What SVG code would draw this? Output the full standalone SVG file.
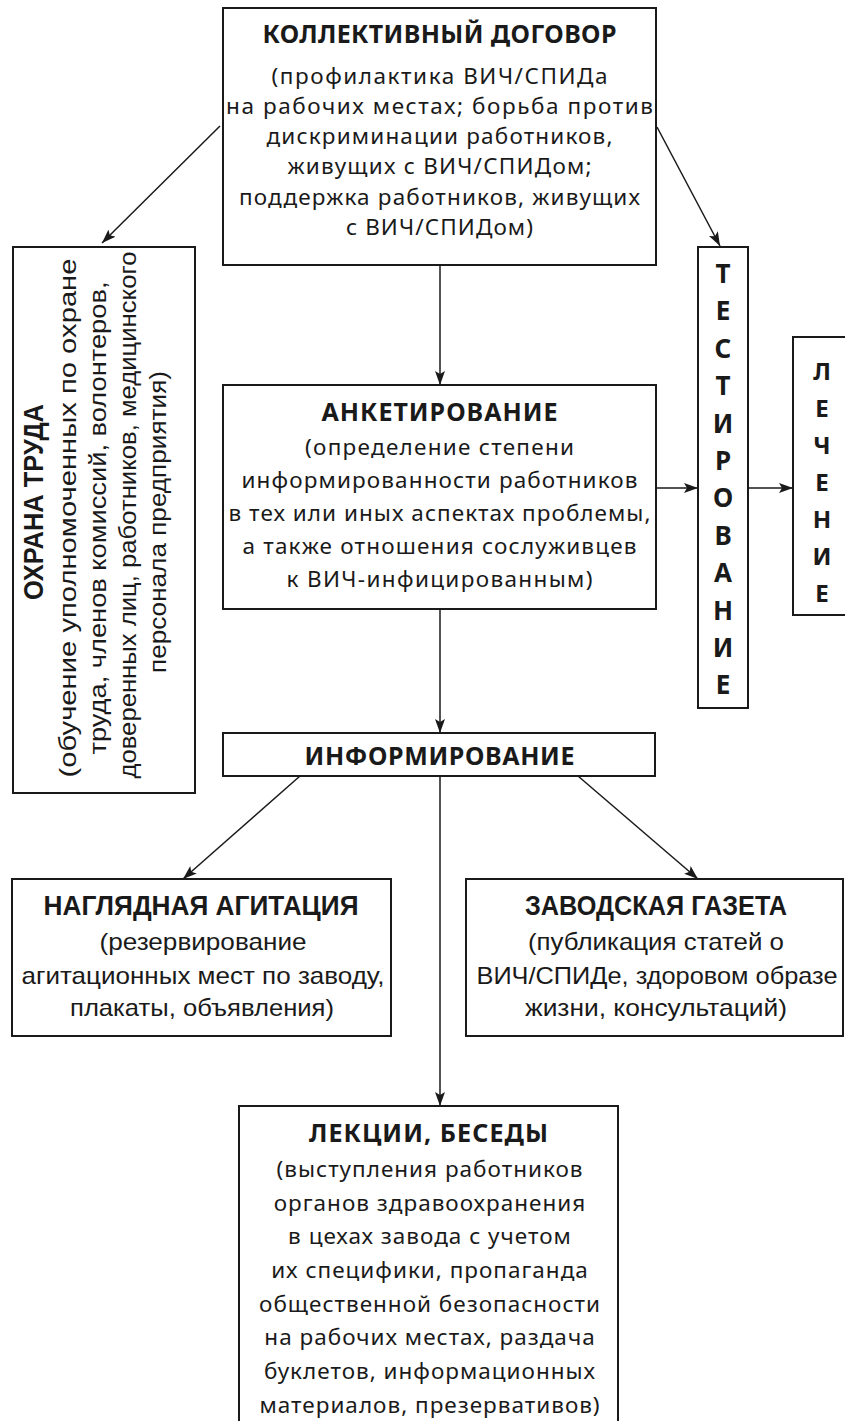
<svg xmlns="http://www.w3.org/2000/svg" width="845" height="1421" viewBox="0 0 845 1421">
<defs>
<style>
.box{fill:#fff;stroke:#1a1a1a;stroke-width:2}
.con{stroke:#1a1a1a;stroke-width:1.5;fill:none}
text{fill:#1a1a1a;text-anchor:middle}
.h{font-family:"Noto Sans","Open Sans",sans-serif;font-weight:bold;font-size:25px;letter-spacing:1px}
.t{font-family:"Noto Sans","Open Sans",sans-serif;font-size:22.5px;letter-spacing:1px}
.v{font-family:"Noto Sans","Open Sans",sans-serif;font-weight:bold;font-size:26px}
.vs{font-family:"Noto Sans","Open Sans",sans-serif;font-weight:bold;font-size:24px}
.nh{font-family:"Liberation Sans Narrow","Liberation Sans",sans-serif;font-weight:bold;font-size:27px}
.nt{font-family:"Liberation Sans Narrow","Liberation Sans",sans-serif;font-size:24px}
</style>
<marker id="ar" markerUnits="userSpaceOnUse" viewBox="0 0 14 10" refX="14" refY="5" markerWidth="14" markerHeight="10" orient="auto">
<path d="M0,0 L14,5 L0,10 L3,5 Z" fill="#1a1a1a"/>
</marker>
</defs>

<g id="connectors">
<line class="con" x1="220" y1="126" x2="102" y2="243" marker-end="url(#ar)"/>
<line class="con" x1="657" y1="127" x2="720" y2="246" marker-end="url(#ar)"/>
<line class="con" x1="440" y1="265" x2="440" y2="385" marker-end="url(#ar)"/>
<line class="con" x1="656" y1="488" x2="698" y2="488" marker-end="url(#ar)"/>
<line class="con" x1="748" y1="488" x2="793" y2="488" marker-end="url(#ar)"/>
<line class="con" x1="440" y1="609" x2="440" y2="733" marker-end="url(#ar)"/>
<line class="con" x1="300" y1="776" x2="183" y2="879" marker-end="url(#ar)"/>
<line class="con" x1="578" y1="776" x2="698" y2="879" marker-end="url(#ar)"/>
<line class="con" x1="440" y1="776" x2="440" y2="1106" marker-end="url(#ar)"/>
</g>

<g id="kollektivny">
<rect class="box" x="223" y="8" width="433" height="257"/>
<text class="h" x="440" y="43" textLength="355">КОЛЛЕКТИВНЫЙ ДОГОВОР</text>
<text class="t" x="440" y="84" textLength="337">(профилактика ВИЧ/СПИДа</text>
<text class="t" x="440" y="114" textLength="428">на рабочих местах; борьба против</text>
<text class="t" x="440" y="144" textLength="347">дискриминации работников,</text>
<text class="t" x="440" y="174" textLength="305">живущих с ВИЧ/СПИДом;</text>
<text class="t" x="440" y="205" textLength="402">поддержка работников, живущих</text>
<text class="t" x="440" y="235" textLength="188">с ВИЧ/СПИДом)</text>
</g>

<g id="okhrana">
<rect class="box" x="13" y="247" width="182" height="546"/>
<text class="nh" transform="translate(43,502) rotate(-90)" textLength="196" lengthAdjust="spacingAndGlyphs">ОХРАНА ТРУДА</text>
<text class="nt" transform="translate(76,518) rotate(-90)" textLength="519" lengthAdjust="spacingAndGlyphs">(обучение уполномоченных по охране</text>
<text class="nt" transform="translate(106,518) rotate(-90)" textLength="473" lengthAdjust="spacingAndGlyphs">труда, членов комиссий,  волонтеров,</text>
<text class="nt" transform="translate(136,515) rotate(-90)" textLength="527" lengthAdjust="spacingAndGlyphs">доверенных лиц, работников, медицинского</text>
<text class="nt" transform="translate(166,522) rotate(-90)" textLength="302" lengthAdjust="spacingAndGlyphs">персонала предприятия)</text>
</g>

<g id="testirovanie">
<rect class="box" x="698" y="247" width="50" height="461"/>
<text class="v" x="723" y="283">Т<tspan x="723" dy="37.4">Е</tspan><tspan x="723" dy="37.4">С</tspan><tspan x="723" dy="37.4">Т</tspan><tspan x="723" dy="37.4">И</tspan><tspan x="723" dy="37.4">Р</tspan><tspan x="723" dy="37.4">О</tspan><tspan x="723" dy="37.4">В</tspan><tspan x="723" dy="37.4">А</tspan><tspan x="723" dy="37.4">Н</tspan><tspan x="723" dy="37.4">И</tspan><tspan x="723" dy="37.4">Е</tspan></text>
</g>

<g id="lechenie">
<rect class="box" x="793" y="337" width="70" height="278"/>
<text class="vs" x="822" y="380">Л<tspan x="822" dy="37">Е</tspan><tspan x="822" dy="37">Ч</tspan><tspan x="822" dy="37">Е</tspan><tspan x="822" dy="37">Н</tspan><tspan x="822" dy="37">И</tspan><tspan x="822" dy="37">Е</tspan></text>
</g>

<g id="anketirovanie">
<rect class="box" x="223" y="385" width="433" height="224"/>
<text class="h" x="440" y="421" textLength="237">АНКЕТИРОВАНИЕ</text>
<text class="t" x="440" y="455" textLength="270">(определение степени</text>
<text class="t" x="440" y="488" textLength="397">информированности работников</text>
<text class="t" x="440" y="521" textLength="423">в тех или иных аспектах проблемы,</text>
<text class="t" x="440" y="554" textLength="395">а также отношения сослуживцев</text>
<text class="t" x="440" y="587" textLength="307">к ВИЧ-инфицированным)</text>
</g>

<g id="informirovanie">
<rect class="box" x="223" y="733" width="432" height="43"/>
<text class="h" x="440" y="765" textLength="271">ИНФОРМИРОВАНИЕ</text>
</g>

<g id="naglyadnaya">
<rect class="box" x="12" y="879" width="379" height="157"/>
<text class="nh" x="201" y="915" textLength="315" lengthAdjust="spacingAndGlyphs">НАГЛЯДНАЯ АГИТАЦИЯ</text>
<text class="nt" x="203" y="950" textLength="207" lengthAdjust="spacingAndGlyphs">(резервирование</text>
<text class="nt" x="203" y="984" textLength="363" lengthAdjust="spacingAndGlyphs">агитационных мест по заводу,</text>
<text class="nt" x="202" y="1016" textLength="264" lengthAdjust="spacingAndGlyphs">плакаты, объявления)</text>
</g>

<g id="zavodskaya">
<rect class="box" x="466" y="879" width="377" height="157"/>
<text class="nh" x="656" y="915" textLength="262" lengthAdjust="spacingAndGlyphs">ЗАВОДСКАЯ ГАЗЕТА</text>
<text class="nt" x="656" y="950" textLength="256" lengthAdjust="spacingAndGlyphs">(публикация статей о</text>
<text class="nt" x="657" y="984" textLength="361" lengthAdjust="spacingAndGlyphs">ВИЧ/СПИДе, здоровом образе</text>
<text class="nt" x="656" y="1016" textLength="262" lengthAdjust="spacingAndGlyphs">жизни, консультаций)</text>
</g>

<g id="lekcii">
<rect class="box" x="239" y="1106" width="379" height="330"/>
<text class="h" x="429" y="1142" textLength="240">ЛЕКЦИИ, БЕСЕДЫ</text>
<text class="t" x="430" y="1177">(выступления работников</text>
<text class="t" x="430" y="1211">органов здравоохранения</text>
<text class="t" x="430" y="1244">в цехах завода с учетом</text>
<text class="t" x="430" y="1278">их специфики, пропаганда</text>
<text class="t" x="430" y="1312">общественной безопасности</text>
<text class="t" x="430" y="1345">на рабочих местах, раздача</text>
<text class="t" x="430" y="1379">буклетов, информационных</text>
<text class="t" x="430" y="1413">материалов, презервативов)</text>
</g>
</svg>
